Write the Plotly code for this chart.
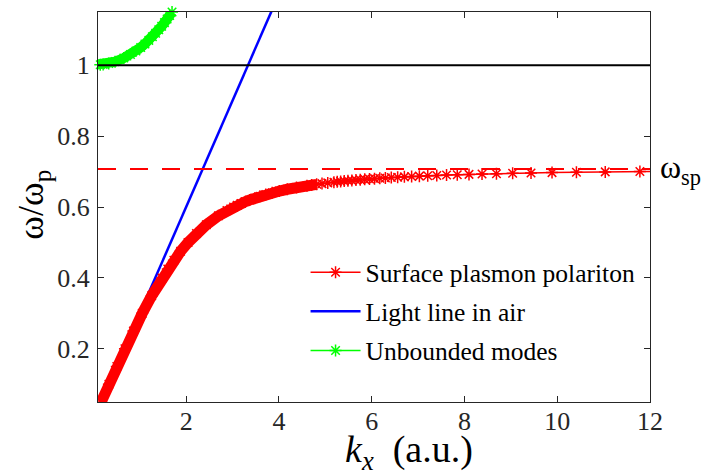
import plotly.graph_objects as go

# Surface plasmon polariton branch (omega / omega_p versus k_x)
spp_omega = [0.05, 0.10, 0.15, 0.20, 0.25, 0.30, 0.35, 0.40, 0.425, 0.45,
             0.475, 0.50, 0.525, 0.55, 0.575, 0.59, 0.60, 0.605, 0.61, 0.615,
             0.62, 0.625, 0.63, 0.635, 0.64, 0.645, 0.65, 0.655, 0.66, 0.662,
             0.664, 0.666, 0.668, 0.670, 0.671, 0.672, 0.673, 0.674, 0.675, 0.676,
             0.677, 0.678, 0.679, 0.680, 0.681, 0.682, 0.683, 0.684, 0.685, 0.686,
             0.687, 0.688, 0.689, 0.690, 0.691, 0.692, 0.693, 0.694, 0.695, 0.696,
             0.697, 0.698, 0.699, 0.700, 0.701]
spp_k = [0.167, 0.335, 0.506, 0.681, 0.863, 1.053, 1.258, 1.482, 1.605, 1.736,
         1.881, 2.041, 2.223, 2.436, 2.694, 2.881, 3.023, 3.102, 3.186, 3.275,
         3.372, 3.477, 3.591, 3.717, 3.855, 4.009, 4.182, 4.379, 4.605, 4.706,
         4.814, 4.929, 5.053, 5.186, 5.257, 5.331, 5.408, 5.488, 5.573, 5.661,
         5.753, 5.850, 5.953, 6.061, 6.175, 6.295, 6.423, 6.560, 6.705, 6.861,
         7.028, 7.208, 7.403, 7.614, 7.845, 8.098, 8.379, 8.690, 9.039, 9.435,
         9.888, 10.414, 11.035, 11.782, 12.71]
# the low-k part of the branch is densely sampled and reads as a solid band
spp_band_end = 31

# Unbounded (bulk) modes above the plasma frequency
unb_omega = [1.000, 1.001, 1.002, 1.005, 1.01, 1.02, 1.03, 1.04, 1.05, 1.06,
             1.07, 1.08, 1.09, 1.10, 1.11, 1.12, 1.13, 1.14, 1.15]
unb_k = [0.0, 0.149, 0.211, 0.332, 0.468, 0.657, 0.800, 0.918, 1.021, 1.112,
         1.196, 1.272, 1.343, 1.410, 1.473, 1.533, 1.590, 1.645, 1.696]

# Light line in air
light_omega = [0.0, 1.2]
light_k = [0.0, 4.0]

# Reference levels
omega_plasma = 1.0
omega_sp = 0.7071

x_range = [0.1, 12]
y_range = [0.05, 1.15]
x_ticks = [2, 4, 6, 8, 10, 12]
y_ticks = [0.2, 0.4, 0.6, 0.8, 1.0]
y_ticklabels = ["0.2", "0.4", "0.6", "0.8", "1"]

SERIF = "Liberation Serif"
AX = "#262626"
RED, BLUE, GREEN = "#ff0000", "#0000ff", "#00ff00"

fig = go.Figure()

fig.add_trace(go.Scatter(
    x=light_k, y=light_omega, mode="lines", name="Light line in air",
    line=dict(color=BLUE, width=2.5), legendrank=2, legendgroup="b"))

fig.add_trace(go.Scatter(
    x=spp_k[:spp_band_end], y=spp_omega[:spp_band_end], mode="lines",
    line=dict(color=RED, width=11), showlegend=False, hoverinfo="skip"))

fig.add_trace(go.Scatter(
    x=spp_k, y=spp_omega, mode="lines+markers", name="Surface plasmon polariton",
    line=dict(color=RED, width=1.5),
    marker=dict(symbol="asterisk-open", size=10, color=RED,
                line=dict(color=RED, width=1.5)),
    legendrank=1, legendgroup="a"))

fig.add_trace(go.Scatter(
    x=unb_k, y=unb_omega, mode="lines",
    line=dict(color=GREEN, width=10), showlegend=False, hoverinfo="skip"))

fig.add_trace(go.Scatter(
    x=unb_k, y=unb_omega, mode="lines+markers", name="Unbounded modes",
    line=dict(color=GREEN, width=1.5),
    marker=dict(symbol="asterisk-open", size=10, color=GREEN,
                line=dict(color=GREEN, width=1.5)),
    cliponaxis=False, legendrank=3, legendgroup="c"))

# plasma frequency and surface plasmon frequency
fig.add_shape(type="line", xref="paper", x0=0, x1=1, yref="y",
              y0=omega_plasma, y1=omega_plasma, layer="above",
              line=dict(color="black", width=2))
fig.add_shape(type="line", xref="paper", x0=0, x1=1, yref="y",
              y0=omega_sp, y1=omega_sp, layer="above",
              line=dict(color=RED, width=2, dash="18px,14px"))

fig.add_annotation(xref="paper", x=1.015, xanchor="left",
                   yref="y", y=omega_sp, yanchor="middle",
                   text="ω<sub>sp</sub>", showarrow=False,
                   font=dict(family=SERIF, size=32, color="black"))

# axis titles
fig.add_annotation(xref="paper", x=0.5637, xanchor="center",
                   yref="paper", y=-0.129, yanchor="middle",
                   text="<i>k</i><sub><i>x</i></sub>&nbsp; (a.u.)", showarrow=False,
                   font=dict(family=SERIF, size=38, color="black"))
fig.add_annotation(xref="paper", x=-0.117, xanchor="center",
                   yref="paper", y=0.507, yanchor="middle", textangle=-90,
                   text="ω/ω<sub>p</sub>", showarrow=False,
                   font=dict(family=SERIF, size=36, color="black"))

axis_common = dict(
    showline=True, linecolor=AX, linewidth=1, mirror="ticks",
    ticks="inside", ticklen=6, tickwidth=1, tickcolor=AX,
    showgrid=False, zeroline=False,
    tickfont=dict(family=SERIF, size=26, color=AX),
)

fig.update_xaxes(range=x_range, tickvals=x_ticks,
                 ticktext=[str(v) for v in x_ticks],
                 ticklabelstandoff=-4, **axis_common)
fig.update_yaxes(range=y_range, tickvals=y_ticks,
                 ticktext=y_ticklabels, ticklabelstandoff=2, **axis_common)

fig.update_layout(
    width=705, height=474,
    margin=dict(l=98, r=55, t=12, b=72),
    plot_bgcolor="white", paper_bgcolor="white",
    font=dict(family=SERIF, color="black"),
    legend=dict(x=0.376, y=0.392, xanchor="left", yanchor="top",
                bgcolor="rgba(0,0,0,0)", borderwidth=0,
                font=dict(family=SERIF, size=25.5, color="black"),
                itemwidth=50, tracegroupgap=3),
    showlegend=True,
)

fig.write_html("out.html")
